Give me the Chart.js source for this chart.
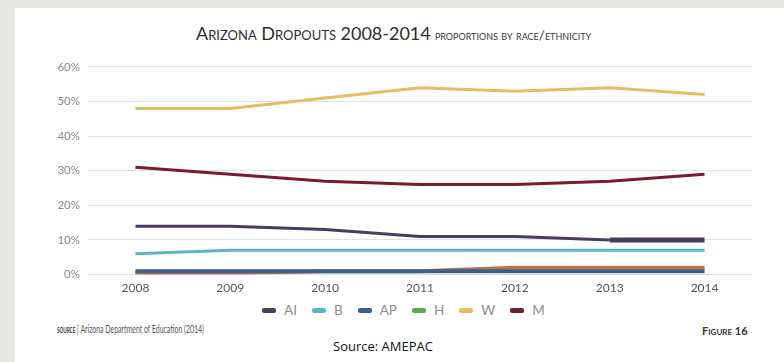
<!DOCTYPE html>
<html>
<head>
<meta charset="utf-8">
<script src="https://cdn.jsdelivr.net/npm/chart.js@4.4.1/dist/chart.umd.min.js"></script>
<style>
  html,body{margin:0;padding:0;}
  body{width:784px;height:362px;background:#e8e8e4;position:relative;overflow:hidden;font-family:"Lato",sans-serif;}
  #panel{position:absolute;left:15px;top:8px;width:769px;height:354px;background:#ffffff;}
  #title{position:absolute;left:196px;top:22px;color:#2e2e2e;white-space:nowrap;}
  #title .big{font-size:18px;font-variant:small-caps;}
  #title .sub{font-size:13.5px;font-variant:small-caps;color:#3a3a3a;}
  #wrap{position:absolute;left:0;top:52px;width:784px;height:249px;}
  #legend{position:absolute;left:262px;top:302px;display:flex;align-items:center;white-space:nowrap;}
  #legend .it{display:flex;align-items:center;margin-right:15px;font-size:13.5px;color:#8d8d8d;}
  #legend .sw{width:14px;height:5px;border-radius:2px;margin-right:8px;}
  #src{position:absolute;left:57px;top:323px;font-size:10.5px;color:#555;white-space:nowrap;transform:scaleX(0.66);transform-origin:left center;}
  #src b{font-variant:small-caps;color:#333;}
  #fig{position:absolute;left:702px;top:324px;font-size:11px;color:#333;font-variant:small-caps;font-weight:bold;}
  #amepac{position:absolute;left:333px;top:337px;font-family:"Open Sans",sans-serif;font-size:13px;color:#111;white-space:nowrap;}
</style>
</head>
<body>
<div id="panel"></div>
<div id="title"><span class="big">Arizona Dropouts 2008-2014</span> <span class="sub">proportions by race/ethnicity</span></div>
<div id="wrap"><canvas id="c"></canvas></div>
<div id="legend"></div>
<div id="src"><b>source</b> | Arizona Department of Education (2014)</div>
<div id="fig">Figure 16</div>
<div id="amepac">Source: AMEPAC</div>
<script>
const years = ["2008","2009","2010","2011","2012","2013","2014"];
const seriesNames = ["AI","B","AP","H","W","M"];
const AI = [14,14,13,11,11,10,10];
const B  = [6,7,7,7,7,7,7];
const AP = [1,1,1,1,1,1,1];
const H  = [0.4,0.4,1,1,2,2,2];
const W  = [48,48,51,54,53,54,52];
const M  = [31,29,27,26,26,27,29];
const yTicks = [0,10,20,30,40,50,60];

const lineColors   = ["#4b3b5e","#5fb4c2","#3d5f8c","#b8744f","#e7bb66","#7b1a2c"];
const legendColors = ["#4b3b5e","#5fb4c2","#3d5f8c","#5aa85a","#e7bb66","#7b1a2c"];
const values = [AI,B,AP,H,W,M];
const widths = [3,3,4,4,3,3];

const lg = document.getElementById('legend');
seriesNames.forEach((n,i)=>{
  const it=document.createElement('div');it.className='it';
  const sw=document.createElement('span');sw.className='sw';sw.style.background=legendColors[i];
  const t=document.createElement('span');t.textContent=n;
  it.appendChild(sw);it.appendChild(t);lg.appendChild(it);
});

const datasets = seriesNames.map((n,i)=>({
  label:n,
  data:values[i],
  borderColor:lineColors[i],
  backgroundColor:legendColors[i],
  borderWidth:widths[i],
  pointRadius:0,
  tension:0,
  order: n==="H" ? 7 : (n==="AP" ? 6 : i),
  segment: n==="AI" ? {borderWidth: ctx => ctx.p0DataIndex>=5 ? 5 : 3} : undefined
}));

new Chart(document.getElementById('c'),{
  type:'line',
  data:{labels:years,datasets:datasets},
  options:{
    responsive:true,
    maintainAspectRatio:false,
    animation:false,
    layout:{padding:{top:10,right:32,left:0,bottom:0}},
    plugins:{tooltip:{enabled:false},legend:{display:false}},
    scales:{
      x:{
        offset:true,
        grid:{display:false,drawTicks:false},
        border:{display:false},
        ticks:{padding:6,color:'#555',font:{family:'Lato',size:12}}
      },
      y:{
        min:0,max:60,
        afterFit:(s)=>{s.width=88;},
        afterBuildTicks:(s)=>{s.ticks=yTicks.map(v=>({value:v}));},
        grid:{color:'#e2e2e2',lineWidth:1,drawTicks:false},
        border:{display:false},
        ticks:{padding:8,color:'#8a8a8a',font:{family:'Lato',size:11.5},callback:v=>v+'%'}
      }
    }
  }
});
</script>
</body>
</html>
